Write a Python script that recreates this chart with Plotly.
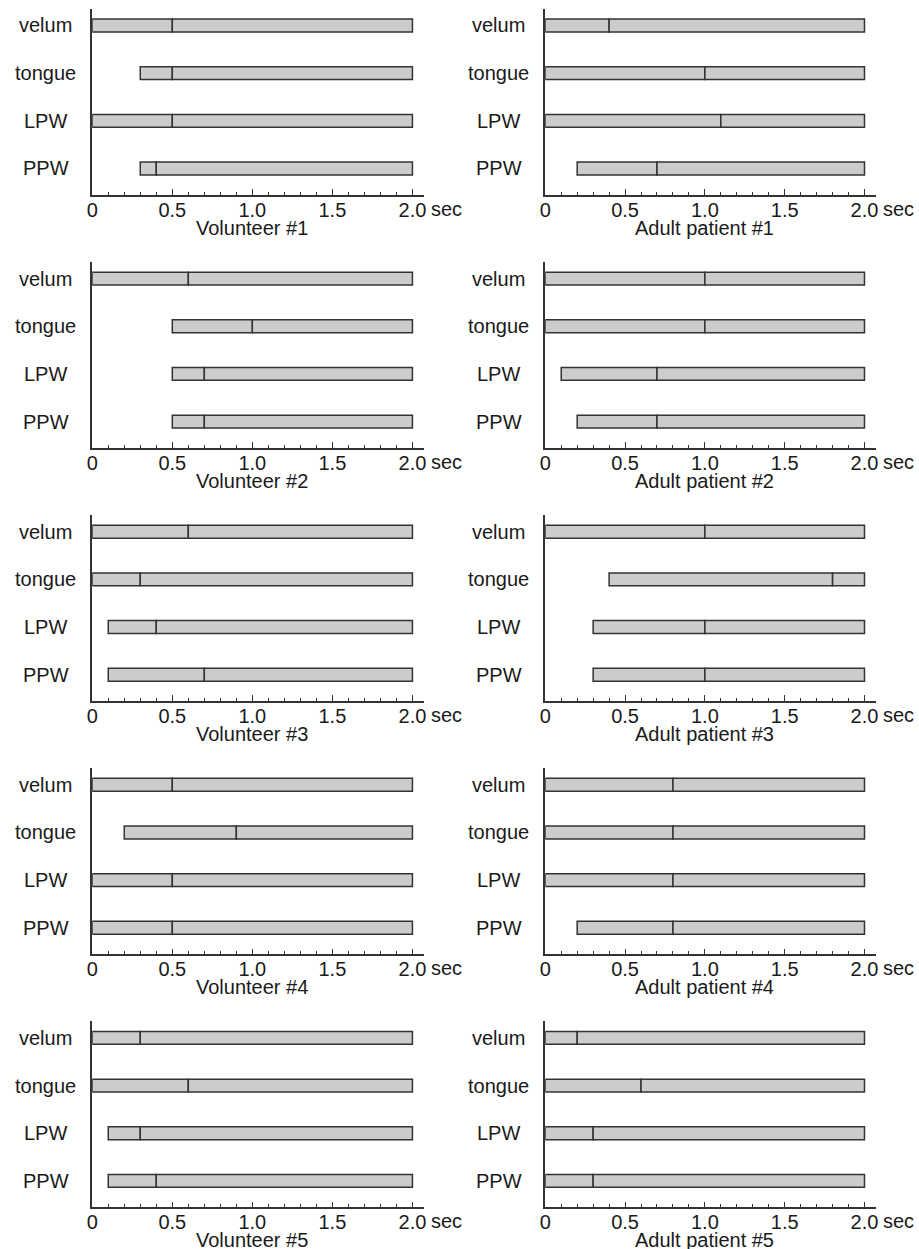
import plotly.graph_objects as go

# ---------------- data ----------------
parts = ["velum", "tongue", "LPW", "PPW"]
end_time = 2.0

volunteer_names = ["Volunteer #1", "Volunteer #2", "Volunteer #3", "Volunteer #4", "Volunteer #5"]
volunteer_start = [
    [0.0, 0.3, 0.0, 0.3],
    [0.0, 0.5, 0.5, 0.5],
    [0.0, 0.0, 0.1, 0.1],
    [0.0, 0.2, 0.0, 0.0],
    [0.0, 0.0, 0.1, 0.1],
]
volunteer_mid = [
    [0.5, 0.5, 0.5, 0.4],
    [0.6, 1.0, 0.7, 0.7],
    [0.6, 0.3, 0.4, 0.7],
    [0.5, 0.9, 0.5, 0.5],
    [0.3, 0.6, 0.3, 0.4],
]

patient_names = ["Adult patient #1", "Adult patient #2", "Adult patient #3", "Adult patient #4", "Adult patient #5"]
patient_start = [
    [0.0, 0.0, 0.0, 0.2],
    [0.0, 0.0, 0.1, 0.2],
    [0.0, 0.4, 0.3, 0.3],
    [0.0, 0.0, 0.0, 0.2],
    [0.0, 0.0, 0.0, 0.0],
]
patient_mid = [
    [0.4, 1.0, 1.1, 0.7],
    [1.0, 1.0, 0.7, 0.7],
    [1.0, 1.8, 1.0, 1.0],
    [0.8, 0.8, 0.8, 0.8],
    [0.2, 0.6, 0.3, 0.3],
]

tick_vals = [0, 0.5, 1.0, 1.5, 2.0]
tick_text = ["0", "0.5", "1.0", "1.5", "2.0"]
minor_vals = [round(0.1 * i, 1) for i in range(1, 20) if i % 5]
unit_label = "sec"

# ---------------- layout geometry ----------------
W, H = 919, 1249
FONT = "Liberation Sans, Arial, Helvetica, sans-serif"
TXT = "#1a1a1a"
LINE = "#333333"
FILL = "#cccccc"
col_px = [(87, 422), (544, 878)]
px_per_unit = 161.5
x_max = end_time + (col_px[0][1] - col_px[0][0] - end_time * px_per_unit) / px_per_unit
row_top0, row_bot0, row_step = 9, 195, 253.1
y_range = [-0.556, 3.346]

fig = go.Figure()
annotations = []
layout_axes = {}

panels = []
for r in range(5):
    panels.append((r, 0, volunteer_names[r], volunteer_start[r], volunteer_mid[r]))
    panels.append((r, 1, patient_names[r], patient_start[r], patient_mid[r]))

for k, (r, c, name, starts, mids) in enumerate(panels):
    idx = k + 1
    xa = "x" if idx == 1 else f"x{idx}"
    ya = "y" if idx == 1 else f"y{idx}"
    xkey = "xaxis" if idx == 1 else f"xaxis{idx}"
    ykey = "yaxis" if idx == 1 else f"yaxis{idx}"
    x0, x1 = col_px[c]
    top = row_top0 + row_step * r
    bot = row_bot0 + row_step * r

    seg1 = [m - s for s, m in zip(starts, mids)]
    seg2 = [end_time - m for m in mids]
    for base, length in ((starts, seg1), (mids, seg2)):
        fig.add_trace(go.Bar(
            y=parts, x=length, base=base, orientation="h", width=0.27,
            marker=dict(color=FILL, line=dict(color=LINE, width=1.5)),
            xaxis=xa, yaxis=ya, showlegend=False, hoverinfo="skip",
        ))

    layout_axes[xkey] = dict(
        domain=[x0 / W, x1 / W], range=[0, x_max], anchor=ya,
        showline=True, linecolor=LINE, linewidth=1.6,
        ticks="inside", ticklen=6, tickwidth=1.2, tickcolor=LINE,
        tickvals=tick_vals, ticktext=tick_text, ticklabelstandoff=-4,
        minor=dict(tickmode="array", tickvals=minor_vals, ticks="inside",
                   ticklen=3.5, tickwidth=1.2, tickcolor=LINE),
        tickfont=dict(family=FONT, size=20, color=TXT),
        showgrid=False, zeroline=False, fixedrange=True,
    )
    layout_axes[ykey] = dict(
        domain=[1 - bot / H, 1 - top / H], range=y_range, anchor=xa,
        type="category", categoryorder="array", categoryarray=parts[::-1],
        showline=True, linecolor=LINE, linewidth=1.6,
        showticklabels=False, ticks="", showgrid=False, zeroline=False, fixedrange=True,
    )

    # y labels (centered)
    for p in parts:
        annotations.append(dict(
            x=(x0 - 47) / W, xref="paper", y=p, yref=ya, text=p, showarrow=False,
            xanchor="center", yanchor="middle", font=dict(family=FONT, size=20, color=TXT),
        ))
    # unit label
    annotations.append(dict(
        x=(x1 + 5) / W, xref="paper", y=1 - (bot + 14) / H, yref="paper", text=unit_label,
        showarrow=False, xanchor="left", yanchor="middle",
        font=dict(family=FONT, size=20, color=TXT),
    ))
    # panel title
    annotations.append(dict(
        x=1.0, xref=xa, y=1 - (bot + 33) / H, yref="paper", text=name,
        showarrow=False, xanchor="center", yanchor="middle",
        font=dict(family=FONT, size=20, color=TXT),
    ))

fig.update_layout(
    width=W, height=H, margin=dict(l=0, r=0, t=0, b=0),
    paper_bgcolor="white", plot_bgcolor="white",
    barmode="overlay", annotations=annotations,
    font=dict(family=FONT, color=TXT),
    **layout_axes,
)

# remove the default 8px page margin so the figure fills the window exactly
fig.write_html("out.html", config={"displayModeBar": False},
               post_script="document.body.style.margin='0px';")
